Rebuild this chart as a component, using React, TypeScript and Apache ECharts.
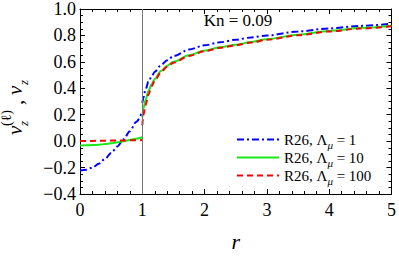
import React, { useEffect, useRef } from "react";
import * as echarts from "echarts";

const FONT = "Liberation Serif, Times New Roman, serif";

const seriesNames = ["R26, Λμ = 1", "R26, Λμ = 10", "R26, Λμ = 100"];
const legendLabels = ["R26, Λ{sub|μ} = 1", "R26, Λ{sub|μ} = 10", "R26, Λ{sub|μ} = 100"];
const seriesColors = ["#0000ff", "#17e817", "#ff0000"];

const xTicks = [0, 1, 2, 3, 4, 5];
const yTicks = [-0.4, -0.2, 0.0, 0.2, 0.4, 0.6, 0.8, 1.0];

const rInner = [0, 0.1, 0.2, 0.3, 0.4, 0.5, 0.6, 0.7, 0.8, 0.9, 1.0];
const blueInner = [-0.222, -0.217, -0.2, -0.172, -0.135, -0.09, -0.04, 0.015, 0.075, 0.145, 0.222];
const greenInner = [-0.033, -0.032, -0.03, -0.027, -0.022, -0.016, -0.008, 0.0, 0.009, 0.019, 0.03];
const redInner = [0.002, 0.002, 0.002, 0.003, 0.003, 0.004, 0.004, 0.005, 0.006, 0.007, 0.008];

const rOuter = [1, 1.02, 1.05, 1.1, 1.15, 1.2, 1.3, 1.4, 1.5, 1.75, 2, 2.25, 2.5, 2.75, 3, 3.5, 4, 4.5, 5];
const blueOuter = [0.29, 0.33, 0.39, 0.45, 0.49, 0.525, 0.575, 0.613, 0.643, 0.693, 0.725, 0.748, 0.768, 0.785, 0.8, 0.83, 0.853, 0.872, 0.889];
const greenOuter = [0.18, 0.25, 0.31, 0.38, 0.43, 0.47, 0.53, 0.57, 0.6, 0.65, 0.685, 0.71, 0.73, 0.75, 0.772, 0.806, 0.834, 0.856, 0.873];
const redOuter = [0.12, 0.2, 0.27, 0.355, 0.415, 0.458, 0.522, 0.563, 0.594, 0.645, 0.68, 0.706, 0.726, 0.746, 0.767, 0.801, 0.83, 0.852, 0.87];

const kLabel = "Kn = 0.09";

function buildData(inner: number[], outer: number[]) {
  const a: any[] = rInner.map((r, i) => [r, inner[i]]);
  a.push([1, "-"]);
  rOuter.forEach((r, i) => a.push([r, outer[i]]));
  return a;
}

export default function App() {
  const ref = useRef<HTMLDivElement>(null);
  useEffect(() => {
    document.body.style.margin = "0";
    if (!ref.current) return;
    const chart = echarts.init(ref.current, null, { renderer: "svg" });
    const labelStyle = { fontFamily: FONT, fontSize: 18, color: "#000" };
    const axisCommon = (show: boolean) => ({
      axisLine: { show: true, onZero: false, lineStyle: { color: "#000", width: 1 } },
      axisTick: { show: true, inside: true, length: 5, lineStyle: { color: "#000" } },
      splitLine: { show: false },
      axisLabel: { show },
    });
    const xBase = { type: "value", min: xTicks[0], max: xTicks[xTicks.length - 1], interval: 1 };
    const yBase = { type: "value", min: yTicks[0], max: yTicks[yTicks.length - 1], interval: 0.2 };
    const xMinor = { show: true, splitNumber: 5, length: 3, lineStyle: { color: "#000" } };
    const yMinor = { show: true, splitNumber: 4, length: 3, lineStyle: { color: "#000" } };
    const datas = [
      buildData(blueInner, blueOuter),
      buildData(greenInner, greenOuter),
      buildData(redInner, redOuter),
    ];
    const dashes: any[] = [[7, 3, 2, 3], "solid", [6, 4]];
    chart.setOption({
      animation: false,
      grid: { left: 80, right: 5, top: 9, bottom: 56 },
      xAxis: [
        {
          ...xBase,
          ...axisCommon(true),
          position: "bottom",
          minorTick: xMinor,
          axisLabel: { ...labelStyle, margin: 7 },
          name: "r",
          nameLocation: "middle",
          nameGap: 36,
          nameTextStyle: { fontFamily: FONT, fontSize: 22, fontStyle: "italic", color: "#000" },
        },
        { ...xBase, ...axisCommon(false), position: "top", minorTick: xMinor },
      ],
      yAxis: [
        {
          ...yBase,
          ...axisCommon(true),
          position: "left",
          minorTick: yMinor,
          axisLabel: {
            ...labelStyle,
            margin: 4,
            formatter: (v: number) => (v < -1e-9 ? "\u2212" : "") + Math.abs(v).toFixed(1),
          },
        },
        { ...yBase, ...axisCommon(false), position: "right", minorTick: yMinor },
      ],
      legend: {
        orient: "vertical",
        left: 231,
        top: 127,
        itemWidth: 42,
        itemHeight: 14,
        itemGap: 0,
        data: seriesNames,
        itemStyle: { color: "transparent", borderColor: "transparent", borderWidth: 0, opacity: 0 },
        formatter: (name: string) => legendLabels[seriesNames.indexOf(name)],
        textStyle: {
          fontFamily: FONT,
          fontSize: 15,
          color: "#000",
          rich: {
            sub: { fontFamily: FONT, fontSize: 11, fontStyle: "italic", color: "#000", verticalAlign: "bottom", lineHeight: 21 },
          },
        },
      },
      graphic: [
        {
          type: "text",
          x: 238,
          y: 20,
          style: { text: kLabel, align: "center", verticalAlign: "middle", font: `17px ${FONT}`, fill: "#000" },
        },
        {
          type: "group",
          x: 15,
          y: 135,
          rotation: Math.PI / 2,
          children: [
            { type: "text", x: 0, y: 0, style: { text: "v", font: `italic 21px ${FONT}`, verticalAlign: "middle", fill: "#000" } },
            { type: "text", x: 9, y: 8, style: { text: "z", font: `italic 13px ${FONT}`, verticalAlign: "middle", fill: "#000" } },
            { type: "text", x: 9, y: -9, style: { text: "(ℓ)", font: `14px ${FONT}`, verticalAlign: "middle", fill: "#000" } },
            { type: "text", x: 30, y: 1, style: { text: ",", font: `21px ${FONT}`, verticalAlign: "middle", fill: "#000" } },
            { type: "text", x: 40, y: 0, style: { text: "v", font: `italic 21px ${FONT}`, verticalAlign: "middle", fill: "#000" } },
            { type: "text", x: 50, y: 8, style: { text: "z", font: `italic 13px ${FONT}`, verticalAlign: "middle", fill: "#000" } },
          ],
        },
      ],
      series: datas.map((d, i) => ({
        type: "line",
        name: seriesNames[i],
        data: d,
        xAxisIndex: 0,
        yAxisIndex: 0,
        symbol: "none",
        showSymbol: false,
        smooth: 0.3,
        smoothMonotone: "x",
        connectNulls: false,
        z: 2 + i,
        itemStyle: { color: seriesColors[i] },
        lineStyle: { color: seriesColors[i], width: 2, type: dashes[i] },
        markLine:
          i === 0
            ? {
                silent: true,
                symbol: ["none", "none"],
                label: { show: false },
                lineStyle: { color: "#777", type: "solid", width: 1 },
                data: [{ xAxis: 1 }],
              }
            : undefined,
      })),
    });
    return () => chart.dispose();
  }, []);
  return <div ref={ref} style={{ width: 399, height: 257 }} />;
}
